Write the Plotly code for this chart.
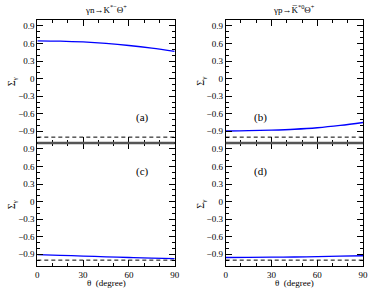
import plotly.graph_objects as go

theta = [0, 15, 30, 45, 60, 75, 90]
sigma_a = [0.645, 0.640, 0.625, 0.600, 0.565, 0.520, 0.465]
sigma_b = [-0.895, -0.890, -0.880, -0.865, -0.840, -0.800, -0.750]
sigma_c = [-0.905, -0.918, -0.930, -0.943, -0.955, -0.966, -0.975]
sigma_d = [-0.955, -0.953, -0.950, -0.946, -0.940, -0.933, -0.925]
limit_x = [0, 90]
limit_y = [-1.0, -1.0]

titles = ["γn→K<sup>*−</sup>Θ<sup>+</sup>", "γp→K\u0305<sup>*0</sup>Θ<sup>+</sup>"]
panel_labels = ["(a)", "(b)", "(c)", "(d)"]
yticks = [0.9, 0.6, 0.3, 0, -0.3, -0.6, -0.9]
yticktext = ["0.9", "0.6", "0.3", "0", "−0.3", "−0.6", "−0.9"]
xticks = [0, 30, 60, 90]

W, H = 374, 289
font = "'Liberation Serif', 'Times New Roman', serif"

fig = go.Figure()

xdom = [[36 / W, 176 / W], [228 / W, 368 / W]]
ydom = [[(H - 143) / H, (H - 20) / H], [(H - 266) / H, (H - 143) / H]]

series = [sigma_a, sigma_b, sigma_c, sigma_d]
label_pos = [(69, -0.66), (23, -0.66), (69, 0.51), (23, 0.51)]

for i in range(4):
    row, col = divmod(i, 2)
    n = i + 1
    xa = "x" if n == 1 else f"x{n}"
    ya = "y" if n == 1 else f"y{n}"
    fig.add_trace(go.Scatter(x=limit_x, y=limit_y, mode="lines",
                             line=dict(color="black", width=1, dash="4px,3px"),
                             xaxis=xa, yaxis=ya, showlegend=False))
    fig.add_trace(go.Scatter(x=theta, y=series[i], mode="lines",
                             line=dict(color="#0000ff", width=1.3, shape="spline"),
                             xaxis=xa, yaxis=ya, showlegend=False))
    xkey = "xaxis" if n == 1 else f"xaxis{n}"
    ykey = "yaxis" if n == 1 else f"yaxis{n}"
    fig.layout[xkey] = dict(
        domain=xdom[col], anchor=ya, range=[0, 90],
        tickvals=xticks, ticks="inside", ticklen=6, tickcolor="black",
        showticklabels=(row == 1), showline=True, linecolor="black",
        linewidth=1, mirror="ticks", showgrid=False, zeroline=False,
        ticklabeloverflow="allow",
        tickfont=dict(family=font, size=9, color="black"),
        minor=dict(dtick=10, tick0=0, ticks="inside", ticklen=3, tickcolor="black"),
    )
    fig.layout[ykey] = dict(
        domain=ydom[row], anchor=xa, range=[-1.1, 1.0],
        tickvals=yticks, ticktext=yticktext, ticks="inside", ticklen=6,
        tickcolor="black", showline=True, linecolor="black", linewidth=1,
        mirror="ticks", showgrid=False, zeroline=False,
        ticklabeloverflow="allow",
        tickfont=dict(family=font, size=9, color="black"),
        minor=dict(dtick=0.1, tick0=0, ticks="inside", ticklen=3, tickcolor="black"),
    )
    lx, ly = label_pos[i]
    fig.add_annotation(x=lx, y=ly, xref=xa, yref=ya, text=panel_labels[i],
                       showarrow=False, font=dict(family=font, size=11, color="black"))

# thick middle borders
for col in range(2):
    fig.add_shape(type="line", xref="paper", yref="paper",
                  x0=xdom[col][0], x1=xdom[col][1], y0=ydom[0][0], y1=ydom[0][0],
                  line=dict(color="#555555", width=2.5))

# column titles
for col in range(2):
    cx = (xdom[col][0] + xdom[col][1]) / 2
    fig.add_annotation(x=cx, y=(H - 9) / H, xref="paper", yref="paper",
                       text=titles[col], showarrow=False,
                       xanchor="center", yanchor="middle",
                       font=dict(family=font, size=9, color="black"))
    fig.add_annotation(x=cx, y=(H - 283) / H, xref="paper", yref="paper",
                       text="θ  (degree)", showarrow=False,
                       xanchor="center", yanchor="middle",
                       font=dict(family=font, size=9, color="black"))
    for row in range(2):
        cy = (ydom[row][0] + ydom[row][1]) / 2
        fig.add_annotation(x=(xdom[col][0] * W - 25) / W, y=cy, xref="paper", yref="paper",
                           text="Σ<sub>γ</sub>", showarrow=False, textangle=-90,
                           xanchor="center", yanchor="middle",
                           font=dict(family=font, size=10, color="black"))

fig.update_layout(width=W, height=H, margin=dict(l=0, r=0, t=0, b=0),
                  paper_bgcolor="white", plot_bgcolor="white",
                  font=dict(family=font, size=9, color="black"))

fig.write_html("out.html", config={"displayModeBar": False},
               post_script="document.body.style.margin='0';document.body.style.overflow='hidden';")
